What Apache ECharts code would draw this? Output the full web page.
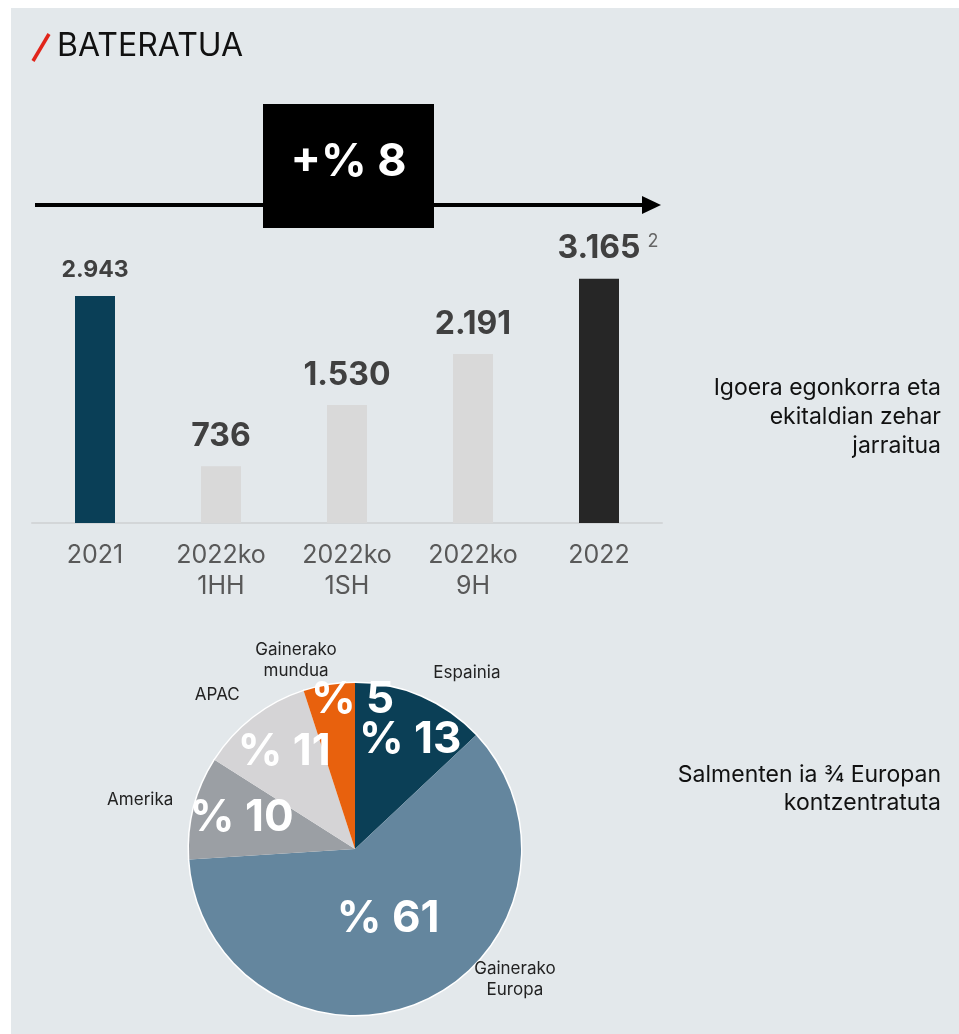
<!DOCTYPE html>
<html>
<head>
<meta charset="utf-8">
<script src="https://cdn.jsdelivr.net/npm/echarts@6/dist/echarts.min.js"></script>
<style>
html, body { margin: 0; padding: 0; background: #fff; }
#bg { position: absolute; left: 11px; top: 8px; right: 0; bottom: 0; background: #e3e8eb; }
#main { position: absolute; left: 0; top: 0; width: 959px; height: 1034px; }
</style>
</head>
<body>
<div id="bg"></div>
<div id="main"></div>
<script>
// salmentak (bateratua)
var categories = ['2021', '2022ko\n1HH', '2022ko\n1SH', '2022ko\n9H', '2022'];
var salesValues = [2943, 736, 1530, 2191, 3165];
var barColors = ['#0a3f57', '#d9d9d9', '#d9d9d9', '#d9d9d9', '#262626'];
var footnotes = ['', '', '', '', '2'];

// salmenten banaketa geografikoa
var regions = ['Espainia', 'Gainerako\nEuropa', 'Amerika', 'APAC', 'Gainerako\nmundua'];
var regionShares = [13, 61, 10, 11, 5];
var regionColors = ['#0b3f56', '#64869e', '#9b9fa4', '#d5d4d6', '#e8610d'];

// label nudges for the pie (px)
var insideNudge = [[21, -30], [-1, -9], [-30, -10], [-18, -29], [11, -64]];
var outsideNudge = [[41, -24], [89, -22], [-49, -8], [-31, -23], [-28, -25]];

var growth = Math.round((salesValues[4] / salesValues[0] - 1) * 100);
var FONT = 'Inter';

function fmt(v) {
    return String(v).replace(/\B(?=(\d{3})+(?!\d))/g, '.');
}

var dom = document.getElementById('main');
var myChart = echarts.init(dom, null, { renderer: 'canvas' });

var barData = salesValues.map(function (v, i) {
    return {
        value: v,
        itemStyle: { color: barColors[i] },
        label: { fontSize: i === 0 ? 23 : 32 }
    };
});

var pieData = regionShares.map(function (v, i) {
    return { name: regions[i], value: v, itemStyle: { color: regionColors[i] } };
});

var option = {
    backgroundColor: 'transparent',
    animation: false,
    textStyle: { fontFamily: FONT },
    grid: {
        left: 32,
        top: 253,
        width: 630,
        height: 270
    },
    xAxis: {
        type: 'category',
        data: categories,
        axisLine: { show: true, lineStyle: { color: '#d3d6d8', width: 2 } },
        axisTick: { show: false },
        splitLine: { show: false },
        axisLabel: {
            fontFamily: FONT,
            fontSize: 25,
            color: '#595959',
            lineHeight: 31,
            margin: 17
        }
    },
    yAxis: {
        type: 'value',
        min: 0,
        max: 3500,
        show: false
    },
    series: [
        {
            type: 'bar',
            data: barData,
            barWidth: 40,
            label: {
                show: true,
                position: 'top',
                distance: 14,
                fontFamily: FONT,
                fontWeight: 'bold',
                color: '#404040',
                formatter: function (p) {
                    var note = footnotes[p.dataIndex];
                    if (note) {
                        return '{pad|}{v|' + fmt(p.value) + '}{sup|' + note + '}';
                    }
                    return fmt(p.value);
                },
                rich: {
                    v: { fontFamily: FONT, fontSize: 32, fontWeight: 'bold', color: '#404040' },
                    pad: { width: 18 },
                    sup: { fontFamily: FONT, fontSize: 18, fontWeight: 'normal', color: '#666', verticalAlign: 'top', padding: [0, 0, 0, 7] }
                }
            }
        },
        {
            type: 'pie',
            center: [355, 849],
            radius: 166,
            startAngle: 90,
            clockwise: true,
            avoidLabelOverlap: false,
            data: pieData,
            itemStyle: { borderColor: '#fff', borderWidth: 3 },
            label: {
                show: true,
                position: 'inside',
                fontFamily: FONT,
                fontSize: 44,
                fontWeight: 'bold',
                color: '#fff',
                formatter: function (p) { return '% ' + p.value; }
            },
            labelLine: { show: false },
            labelLayout: function (p) {
                var n = insideNudge[p.dataIndex];
                return { dx: n[0], dy: n[1] };
            },
            emphasis: { disabled: true }
        },
        {
            type: 'pie',
            center: [355, 849],
            radius: 166,
            startAngle: 90,
            clockwise: true,
            avoidLabelOverlap: false,
            silent: true,
            data: pieData,
            itemStyle: { color: 'transparent', borderWidth: 0 },
            label: {
                show: true,
                position: 'outside',
                alignTo: 'none',
                fontFamily: FONT,
                fontSize: 17,
                lineHeight: 21,
                color: '#222',
                formatter: '{b}'
            },
            labelLine: { show: false, length: 0, length2: 0 },
            labelLayout: function (p) {
                var n = outsideNudge[p.dataIndex];
                return { dx: n[0], dy: n[1], align: 'center', verticalAlign: 'middle' };
            },
            emphasis: { disabled: true }
        }
    ],
    graphic: [
        {
            type: 'line',
            shape: { x1: 33, y1: 61, x2: 49, y2: 34 },
            style: { stroke: '#e1251b', lineWidth: 3.5 }
        },
        {
            type: 'text',
            x: 57,
            y: 46,
            style: {
                text: 'BATERATUA',
                font: '32px Inter',
                fill: '#111',
                verticalAlign: 'middle'
            }
        },
        {
            type: 'line',
            z: 1,
            shape: { x1: 35, y1: 205, x2: 645, y2: 205 },
            style: { stroke: '#000', lineWidth: 4 }
        },
        {
            type: 'polygon',
            z: 1,
            shape: { points: [[642, 196], [661, 205], [642, 214]] },
            style: { fill: '#000' }
        },
        {
            type: 'rect',
            z: 5,
            shape: { x: 263, y: 104, width: 171, height: 124 },
            style: { fill: '#000' }
        },
        {
            type: 'text',
            z: 6,
            x: 348.5,
            y: 162,
            style: {
                text: '+% ' + growth,
                font: 'bold 45px Inter',
                fill: '#fff',
                align: 'center',
                verticalAlign: 'middle'
            }
        },
        {
            type: 'text',
            x: 941,
            y: 374,
            style: {
                text: 'Igoera egonkorra eta\nekitaldian zehar\njarraitua',
                font: '23px Inter',
                lineHeight: 29,
                fill: '#111',
                align: 'right',
                verticalAlign: 'top'
            }
        },
        {
            type: 'text',
            x: 941,
            y: 761,
            style: {
                text: 'Salmenten ia \u00be Europan\nkontzentratuta',
                font: '23px Inter',
                lineHeight: 28,
                fill: '#111',
                align: 'right',
                verticalAlign: 'top'
            }
        }
    ]
};

myChart.setOption(option);
window.addEventListener('resize', myChart.resize);
</script>
</body>
</html>
